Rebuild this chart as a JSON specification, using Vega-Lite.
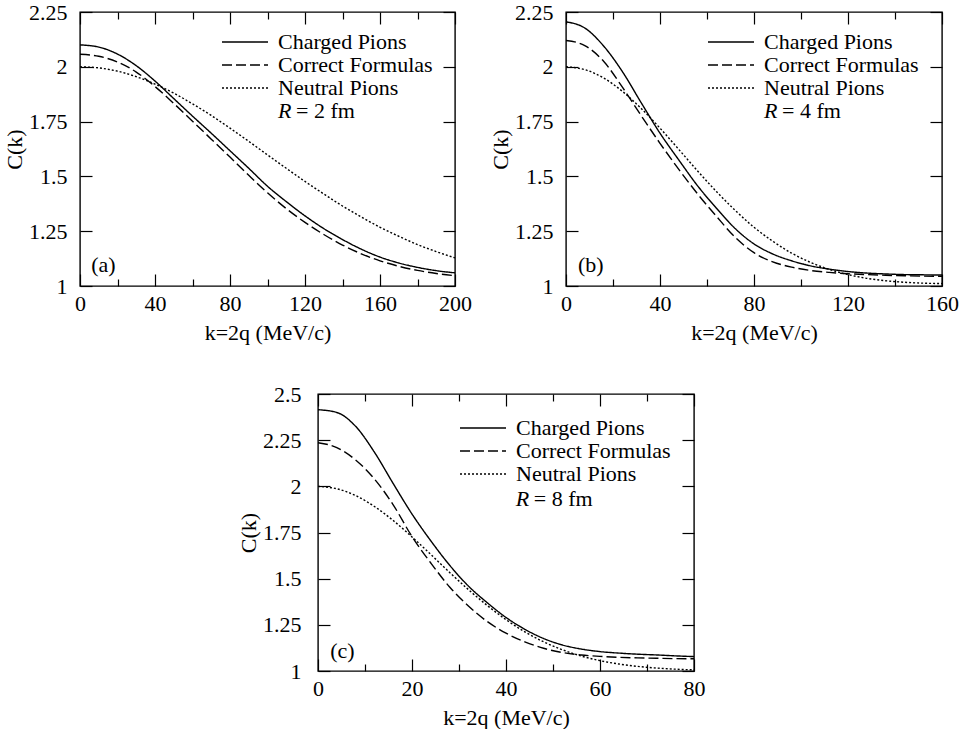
{
  "$schema": "https://vega.github.io/schema/vega-lite/v6.json",
  "background": "white",
  "padding": {"left": 2, "top": 0, "right": 0, "bottom": 0},
  "config": {
    "font": "Liberation Serif",
    "view": {"stroke": "black", "strokeWidth": 1.4},
    "axis": {"grid": false, "domain": false, "tickColor": "black", "tickWidth": 1.2, "labelFont": "Liberation Serif", "labelFontSize": 22, "labelColor": "black", "titleFont": "Liberation Serif", "titleFontSize": 22, "titleFontWeight": "normal", "titleColor": "black", "labelFlush": false, "labelOverlap": false, "labelBound": false},
    "legend": {"orient": "none", "title": null, "symbolType": "M-4.6,0H4.6", "symbolSize": 100, "symbolStrokeColor": "black", "symbolStrokeWidth": 1.4, "labelFont": "Liberation Serif", "labelFontSize": 22, "labelColor": "black", "labelOffset": 22, "labelLimit": 300, "rowPadding": 1, "padding": 0},
    "text": {"font": "Liberation Serif", "fontSize": 22, "color": "black", "align": "left", "baseline": "middle"}
  },
  "datasets": {
    "a": [
      {"k":0,"C":2.100,"s":"Charged Pions"},{"k":10,"C":2.090,"s":"Charged Pions"},{"k":20,"C":2.058,"s":"Charged Pions"},{"k":30,"C":2.005,"s":"Charged Pions"},{"k":40,"C":1.935,"s":"Charged Pions"},{"k":50,"C":1.855,"s":"Charged Pions"},{"k":60,"C":1.775,"s":"Charged Pions"},{"k":70,"C":1.697,"s":"Charged Pions"},{"k":80,"C":1.617,"s":"Charged Pions"},{"k":90,"C":1.537,"s":"Charged Pions"},{"k":100,"C":1.455,"s":"Charged Pions"},{"k":110,"C":1.385,"s":"Charged Pions"},{"k":120,"C":1.320,"s":"Charged Pions"},{"k":130,"C":1.262,"s":"Charged Pions"},{"k":140,"C":1.212,"s":"Charged Pions"},{"k":150,"C":1.168,"s":"Charged Pions"},{"k":160,"C":1.132,"s":"Charged Pions"},{"k":170,"C":1.105,"s":"Charged Pions"},{"k":180,"C":1.085,"s":"Charged Pions"},{"k":190,"C":1.070,"s":"Charged Pions"},{"k":200,"C":1.060,"s":"Charged Pions"},
      {"k":0,"C":2.057,"s":"Correct Formulas"},{"k":10,"C":2.048,"s":"Correct Formulas"},{"k":20,"C":2.022,"s":"Correct Formulas"},{"k":30,"C":1.976,"s":"Correct Formulas"},{"k":40,"C":1.910,"s":"Correct Formulas"},{"k":50,"C":1.833,"s":"Correct Formulas"},{"k":60,"C":1.752,"s":"Correct Formulas"},{"k":70,"C":1.670,"s":"Correct Formulas"},{"k":80,"C":1.588,"s":"Correct Formulas"},{"k":90,"C":1.505,"s":"Correct Formulas"},{"k":100,"C":1.425,"s":"Correct Formulas"},{"k":110,"C":1.353,"s":"Correct Formulas"},{"k":120,"C":1.290,"s":"Correct Formulas"},{"k":130,"C":1.235,"s":"Correct Formulas"},{"k":140,"C":1.187,"s":"Correct Formulas"},{"k":150,"C":1.147,"s":"Correct Formulas"},{"k":160,"C":1.115,"s":"Correct Formulas"},{"k":170,"C":1.090,"s":"Correct Formulas"},{"k":180,"C":1.071,"s":"Correct Formulas"},{"k":190,"C":1.057,"s":"Correct Formulas"},{"k":200,"C":1.047,"s":"Correct Formulas"},
      {"k":0,"C":2.000,"s":"Neutral Pions"},{"k":10,"C":1.995,"s":"Neutral Pions"},{"k":20,"C":1.980,"s":"Neutral Pions"},{"k":30,"C":1.955,"s":"Neutral Pions"},{"k":40,"C":1.921,"s":"Neutral Pions"},{"k":50,"C":1.880,"s":"Neutral Pions"},{"k":60,"C":1.831,"s":"Neutral Pions"},{"k":70,"C":1.778,"s":"Neutral Pions"},{"k":80,"C":1.720,"s":"Neutral Pions"},{"k":90,"C":1.660,"s":"Neutral Pions"},{"k":100,"C":1.598,"s":"Neutral Pions"},{"k":110,"C":1.537,"s":"Neutral Pions"},{"k":120,"C":1.477,"s":"Neutral Pions"},{"k":130,"C":1.420,"s":"Neutral Pions"},{"k":140,"C":1.365,"s":"Neutral Pions"},{"k":150,"C":1.315,"s":"Neutral Pions"},{"k":160,"C":1.268,"s":"Neutral Pions"},{"k":170,"C":1.227,"s":"Neutral Pions"},{"k":180,"C":1.189,"s":"Neutral Pions"},{"k":190,"C":1.157,"s":"Neutral Pions"},{"k":200,"C":1.128,"s":"Neutral Pions"}
    ],
    "b": [
      {"k":0,"C":2.205,"s":"Charged Pions"},{"k":8,"C":2.177,"s":"Charged Pions"},{"k":16,"C":2.095,"s":"Charged Pions"},{"k":24,"C":1.978,"s":"Charged Pions"},{"k":32,"C":1.836,"s":"Charged Pions"},{"k":40,"C":1.697,"s":"Charged Pions"},{"k":48,"C":1.575,"s":"Charged Pions"},{"k":56,"C":1.457,"s":"Charged Pions"},{"k":64,"C":1.355,"s":"Charged Pions"},{"k":72,"C":1.262,"s":"Charged Pions"},{"k":80,"C":1.192,"s":"Charged Pions"},{"k":88,"C":1.146,"s":"Charged Pions"},{"k":96,"C":1.115,"s":"Charged Pions"},{"k":104,"C":1.092,"s":"Charged Pions"},{"k":112,"C":1.077,"s":"Charged Pions"},{"k":120,"C":1.066,"s":"Charged Pions"},{"k":128,"C":1.059,"s":"Charged Pions"},{"k":136,"C":1.055,"s":"Charged Pions"},{"k":144,"C":1.052,"s":"Charged Pions"},{"k":152,"C":1.051,"s":"Charged Pions"},{"k":160,"C":1.050,"s":"Charged Pions"},
      {"k":0,"C":2.120,"s":"Correct Formulas"},{"k":8,"C":2.097,"s":"Correct Formulas"},{"k":16,"C":2.025,"s":"Correct Formulas"},{"k":24,"C":1.907,"s":"Correct Formulas"},{"k":32,"C":1.777,"s":"Correct Formulas"},{"k":40,"C":1.651,"s":"Correct Formulas"},{"k":48,"C":1.532,"s":"Correct Formulas"},{"k":56,"C":1.420,"s":"Correct Formulas"},{"k":64,"C":1.318,"s":"Correct Formulas"},{"k":72,"C":1.222,"s":"Correct Formulas"},{"k":80,"C":1.152,"s":"Correct Formulas"},{"k":88,"C":1.110,"s":"Correct Formulas"},{"k":96,"C":1.086,"s":"Correct Formulas"},{"k":104,"C":1.071,"s":"Correct Formulas"},{"k":112,"C":1.062,"s":"Correct Formulas"},{"k":120,"C":1.056,"s":"Correct Formulas"},{"k":128,"C":1.052,"s":"Correct Formulas"},{"k":136,"C":1.049,"s":"Correct Formulas"},{"k":144,"C":1.047,"s":"Correct Formulas"},{"k":152,"C":1.045,"s":"Correct Formulas"},{"k":160,"C":1.044,"s":"Correct Formulas"},
      {"k":0,"C":2.000,"s":"Neutral Pions"},{"k":8,"C":1.987,"s":"Neutral Pions"},{"k":16,"C":1.949,"s":"Neutral Pions"},{"k":24,"C":1.888,"s":"Neutral Pions"},{"k":32,"C":1.810,"s":"Neutral Pions"},{"k":40,"C":1.720,"s":"Neutral Pions"},{"k":48,"C":1.623,"s":"Neutral Pions"},{"k":56,"C":1.525,"s":"Neutral Pions"},{"k":64,"C":1.431,"s":"Neutral Pions"},{"k":72,"C":1.345,"s":"Neutral Pions"},{"k":80,"C":1.268,"s":"Neutral Pions"},{"k":88,"C":1.204,"s":"Neutral Pions"},{"k":96,"C":1.150,"s":"Neutral Pions"},{"k":104,"C":1.108,"s":"Neutral Pions"},{"k":112,"C":1.076,"s":"Neutral Pions"},{"k":120,"C":1.052,"s":"Neutral Pions"},{"k":128,"C":1.035,"s":"Neutral Pions"},{"k":136,"C":1.024,"s":"Neutral Pions"},{"k":144,"C":1.017,"s":"Neutral Pions"},{"k":152,"C":1.013,"s":"Neutral Pions"},{"k":160,"C":1.011,"s":"Neutral Pions"}
    ],
    "c": [
      {"k":0,"C":2.415,"s":"Charged Pions"},{"k":4,"C":2.400,"s":"Charged Pions"},{"k":8,"C":2.325,"s":"Charged Pions"},{"k":12,"C":2.185,"s":"Charged Pions"},{"k":16,"C":2.015,"s":"Charged Pions"},{"k":20,"C":1.850,"s":"Charged Pions"},{"k":24,"C":1.705,"s":"Charged Pions"},{"k":28,"C":1.573,"s":"Charged Pions"},{"k":32,"C":1.460,"s":"Charged Pions"},{"k":36,"C":1.370,"s":"Charged Pions"},{"k":40,"C":1.290,"s":"Charged Pions"},{"k":44,"C":1.226,"s":"Charged Pions"},{"k":48,"C":1.176,"s":"Charged Pions"},{"k":52,"C":1.141,"s":"Charged Pions"},{"k":56,"C":1.119,"s":"Charged Pions"},{"k":60,"C":1.105,"s":"Charged Pions"},{"k":64,"C":1.097,"s":"Charged Pions"},{"k":68,"C":1.091,"s":"Charged Pions"},{"k":72,"C":1.087,"s":"Charged Pions"},{"k":76,"C":1.082,"s":"Charged Pions"},{"k":80,"C":1.078,"s":"Charged Pions"},
      {"k":0,"C":2.236,"s":"Correct Formulas"},{"k":4,"C":2.210,"s":"Correct Formulas"},{"k":8,"C":2.143,"s":"Correct Formulas"},{"k":12,"C":2.040,"s":"Correct Formulas"},{"k":16,"C":1.900,"s":"Correct Formulas"},{"k":20,"C":1.728,"s":"Correct Formulas"},{"k":24,"C":1.585,"s":"Correct Formulas"},{"k":28,"C":1.455,"s":"Correct Formulas"},{"k":32,"C":1.352,"s":"Correct Formulas"},{"k":36,"C":1.268,"s":"Correct Formulas"},{"k":40,"C":1.205,"s":"Correct Formulas"},{"k":44,"C":1.158,"s":"Correct Formulas"},{"k":48,"C":1.123,"s":"Correct Formulas"},{"k":52,"C":1.100,"s":"Correct Formulas"},{"k":56,"C":1.087,"s":"Correct Formulas"},{"k":60,"C":1.079,"s":"Correct Formulas"},{"k":64,"C":1.074,"s":"Correct Formulas"},{"k":68,"C":1.071,"s":"Correct Formulas"},{"k":72,"C":1.069,"s":"Correct Formulas"},{"k":76,"C":1.067,"s":"Correct Formulas"},{"k":80,"C":1.066,"s":"Correct Formulas"},
      {"k":0,"C":2.000,"s":"Neutral Pions"},{"k":4,"C":1.987,"s":"Neutral Pions"},{"k":8,"C":1.950,"s":"Neutral Pions"},{"k":12,"C":1.891,"s":"Neutral Pions"},{"k":16,"C":1.815,"s":"Neutral Pions"},{"k":20,"C":1.726,"s":"Neutral Pions"},{"k":24,"C":1.631,"s":"Neutral Pions"},{"k":28,"C":1.534,"s":"Neutral Pions"},{"k":32,"C":1.441,"s":"Neutral Pions"},{"k":36,"C":1.355,"s":"Neutral Pions"},{"k":40,"C":1.278,"s":"Neutral Pions"},{"k":44,"C":1.212,"s":"Neutral Pions"},{"k":48,"C":1.158,"s":"Neutral Pions"},{"k":52,"C":1.115,"s":"Neutral Pions"},{"k":56,"C":1.081,"s":"Neutral Pions"},{"k":60,"C":1.056,"s":"Neutral Pions"},{"k":64,"C":1.038,"s":"Neutral Pions"},{"k":68,"C":1.025,"s":"Neutral Pions"},{"k":72,"C":1.016,"s":"Neutral Pions"},{"k":76,"C":1.010,"s":"Neutral Pions"},{"k":80,"C":1.006,"s":"Neutral Pions"}
    ]
  },
  "spacing": 38,
  "resolve": {"scale": {"strokeDash": "independent"}},
  "vconcat": [
    {
      "hconcat": [
        {
          "width": 375, "height": 274,
          "resolve": {"axis": {"x": "independent", "y": "independent"}},
          "layer": [
            {
              "data": {"name": "a"},
              "mark": {"type": "line", "interpolate": "monotone", "color": "black", "strokeWidth": 1.4},
              "encoding": {
                "x": {"field": "k", "type": "quantitative", "scale": {"domain": [0, 200], "nice": false, "zero": false},
                      "axis": {"orient": "bottom", "values": [0, 40, 80, 120, 160, 200], "format": "d", "tickSize": -12, "labelPadding": 19, "title": "k=2q (MeV/c)", "titlePadding": 8}},
                "y": {"field": "C", "type": "quantitative", "scale": {"domain": [1, 2.25], "nice": false, "zero": false},
                      "axis": {"orient": "left", "values": [1, 1.25, 1.5, 1.75, 2, 2.25], "format": ".3~g", "tickSize": -12, "labelPadding": 25, "title": "C(k)", "titlePadding": 2}},
                "strokeDash": {"field": "s", "type": "nominal", "scale": {"domain": ["Charged Pions", "Correct Formulas", "Neutral Pions"], "range": [[1, 0], [10, 4], [2, 2]]},
                      "legend": {"legendX": 154, "legendY": 19}}
              }
            },
            {
              "data": {"values": [{}]},
              "mark": {"type": "text"},
              "encoding": {
                "x": {"datum": 6, "type": "quantitative", "axis": {"orient": "top", "values": [0, 40, 80, 120, 160, 200], "labels": false, "tickSize": -12, "title": null}},
                "y": {"datum": 1.096, "type": "quantitative", "axis": {"orient": "right", "values": [1, 1.25, 1.5, 1.75, 2, 2.25], "labels": false, "tickSize": -12, "title": null}},
                "text": {"value": "(a)"}
              }
            },
            {
              "data": {"values": [{}]},
              "mark": {"type": "text", "fontStyle": "italic"},
              "encoding": {
                "x": {"datum": 105.6, "type": "quantitative", "axis": {"orient": "bottom", "values": [20, 60, 100, 140, 180], "labels": false, "tickSize": -7, "title": null}},
                "y": {"datum": 1.798, "type": "quantitative", "axis": null},
                "text": {"value": "R"}
              }
            },
            {
              "data": {"values": [{}]},
              "mark": {"type": "text", "dx": 18},
              "encoding": {
                "x": {"datum": 105.6, "type": "quantitative", "axis": {"orient": "top", "values": [20, 60, 100, 140, 180], "labels": false, "tickSize": -7, "title": null}},
                "y": {"datum": 1.798, "type": "quantitative", "axis": null},
                "text": {"value": "= 2 fm"}
              }
            }
          ]
        },
        {
          "width": 376, "height": 274,
          "resolve": {"axis": {"x": "independent", "y": "independent"}},
          "layer": [
            {
              "data": {"name": "b"},
              "mark": {"type": "line", "interpolate": "monotone", "color": "black", "strokeWidth": 1.4},
              "encoding": {
                "x": {"field": "k", "type": "quantitative", "scale": {"domain": [0, 160], "nice": false, "zero": false},
                      "axis": {"orient": "bottom", "values": [0, 40, 80, 120, 160], "format": "d", "tickSize": -12, "labelPadding": 19, "title": "k=2q (MeV/c)", "titlePadding": 8}},
                "y": {"field": "C", "type": "quantitative", "scale": {"domain": [1, 2.25], "nice": false, "zero": false},
                      "axis": {"orient": "left", "values": [1, 1.25, 1.5, 1.75, 2, 2.25], "format": ".3~g", "tickSize": -12, "labelPadding": 25, "title": "C(k)", "titlePadding": 2}},
                "strokeDash": {"field": "s", "type": "nominal", "scale": {"domain": ["Charged Pions", "Correct Formulas", "Neutral Pions"], "range": [[1, 0], [10, 4], [2, 2]]},
                      "legend": {"legendX": 154, "legendY": 19}}
              }
            },
            {
              "data": {"values": [{}]},
              "mark": {"type": "text"},
              "encoding": {
                "x": {"datum": 5.1, "type": "quantitative", "axis": {"orient": "top", "values": [0, 40, 80, 120, 160], "labels": false, "tickSize": -12, "title": null}},
                "y": {"datum": 1.096, "type": "quantitative", "axis": {"orient": "right", "values": [1, 1.25, 1.5, 1.75, 2, 2.25], "labels": false, "tickSize": -12, "title": null}},
                "text": {"value": "(b)"}
              }
            },
            {
              "data": {"values": [{}]},
              "mark": {"type": "text", "fontStyle": "italic"},
              "encoding": {
                "x": {"datum": 84.3, "type": "quantitative", "axis": {"orient": "bottom", "values": [20, 60, 100, 140], "labels": false, "tickSize": -7, "title": null}},
                "y": {"datum": 1.798, "type": "quantitative", "axis": null},
                "text": {"value": "R"}
              }
            },
            {
              "data": {"values": [{}]},
              "mark": {"type": "text", "dx": 18},
              "encoding": {
                "x": {"datum": 84.3, "type": "quantitative", "axis": {"orient": "top", "values": [20, 60, 100, 140], "labels": false, "tickSize": -7, "title": null}},
                "y": {"datum": 1.798, "type": "quantitative", "axis": null},
                "text": {"value": "= 4 fm"}
              }
            }
          ]
        }
      ],
      "spacing": 15,
      "resolve": {"scale": {"strokeDash": "independent"}}
    },
    {
      "hconcat": [
        {
          "width": 136, "height": 10,
          "view": {"stroke": null},
          "data": {"values": [{}]},
          "mark": {"type": "text"},
          "encoding": {"text": {"value": ""}}
        },
        {
          "width": 376, "height": 277,
          "resolve": {"axis": {"x": "independent", "y": "independent"}},
          "layer": [
            {
              "data": {"name": "c"},
              "mark": {"type": "line", "interpolate": "monotone", "color": "black", "strokeWidth": 1.4},
              "encoding": {
                "x": {"field": "k", "type": "quantitative", "scale": {"domain": [0, 80], "nice": false, "zero": false},
                      "axis": {"orient": "bottom", "values": [0, 20, 40, 60, 80], "format": "d", "tickSize": -12, "labelPadding": 19, "title": "k=2q (MeV/c)", "titlePadding": 8}},
                "y": {"field": "C", "type": "quantitative", "scale": {"domain": [1, 2.5], "nice": false, "zero": false},
                      "axis": {"orient": "left", "values": [1, 1.25, 1.5, 1.75, 2, 2.25, 2.5], "format": ".3~g", "tickSize": -12, "labelPadding": 29, "title": "C(k)", "titlePadding": 2}},
                "strokeDash": {"field": "s", "type": "nominal", "scale": {"domain": ["Charged Pions", "Correct Formulas", "Neutral Pions"], "range": [[1, 0], [10, 4], [2, 2]]},
                      "legend": {"legendX": 154, "legendY": 23}}
              }
            },
            {
              "data": {"values": [{}]},
              "mark": {"type": "text"},
              "encoding": {
                "x": {"datum": 2.6, "type": "quantitative", "axis": {"orient": "top", "values": [0, 20, 40, 60, 80], "labels": false, "tickSize": -12, "title": null}},
                "y": {"datum": 1.108, "type": "quantitative", "axis": {"orient": "right", "values": [1, 1.25, 1.5, 1.75, 2, 2.25, 2.5], "labels": false, "tickSize": -12, "title": null}},
                "text": {"value": "(c)"}
              }
            },
            {
              "data": {"values": [{}]},
              "mark": {"type": "text", "fontStyle": "italic"},
              "encoding": {
                "x": {"datum": 42.1, "type": "quantitative", "axis": {"orient": "bottom", "values": [10, 30, 50, 70], "labels": false, "tickSize": -7, "title": null}},
                "y": {"datum": 1.93, "type": "quantitative", "axis": null},
                "text": {"value": "R"}
              }
            },
            {
              "data": {"values": [{}]},
              "mark": {"type": "text", "dx": 18},
              "encoding": {
                "x": {"datum": 42.1, "type": "quantitative", "axis": {"orient": "top", "values": [10, 30, 50, 70], "labels": false, "tickSize": -7, "title": null}},
                "y": {"datum": 1.93, "type": "quantitative", "axis": null},
                "text": {"value": "= 8 fm"}
              }
            }
          ]
        }
      ],
      "spacing": 20,
      "resolve": {"scale": {"strokeDash": "independent"}}
    }
  ]
}
